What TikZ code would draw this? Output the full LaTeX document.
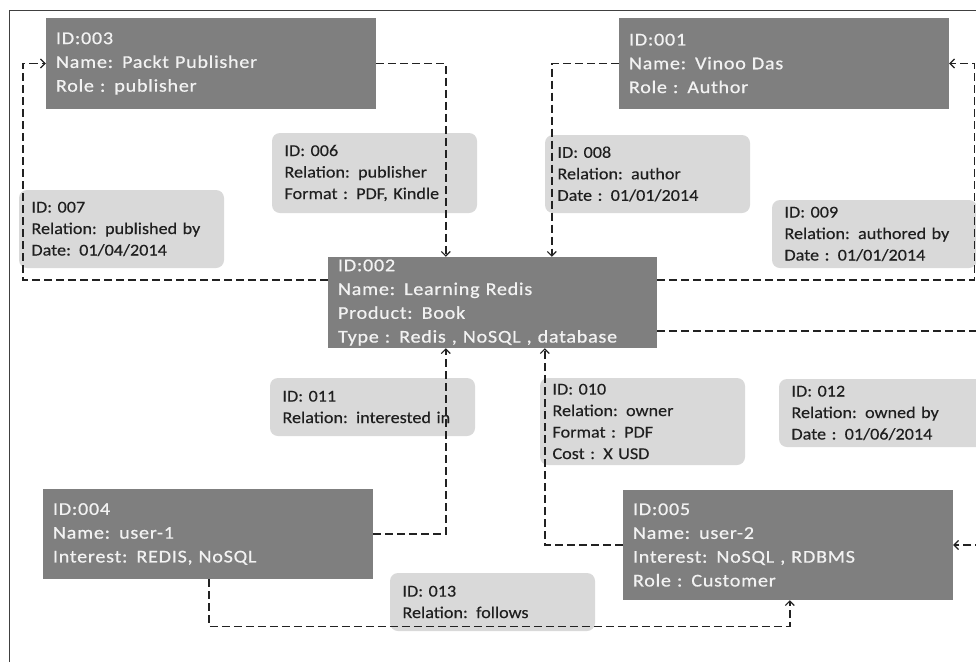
\documentclass[tikz,border=0pt]{standalone}
\usepackage{fontspec}
\setmainfont{Carlito}
\newfontfamily\darkfont[FakeStretch=1.12,LetterSpace=4,FakeBold=0.6]{Carlito}
\newfontfamily\lblfont[FakeStretch=1.1,FakeBold=0.25,WordSpace=0.8]{Carlito}
\usetikzlibrary{arrows.meta}
\definecolor{boxgray}{HTML}{7F7F7F}
\definecolor{lblgray}{HTML}{D9D9D9}
\definecolor{boxtext}{HTML}{F2F2F2}
\definecolor{linecol}{HTML}{222222}
\definecolor{framecol}{HTML}{404040}
\begin{document}
\begin{tikzpicture}[x=1pt,y=-1pt,
  dbox/.style={fill=boxgray, text=boxtext, inner xsep=10pt, inner ysep=0pt,
    align=left, text width=310pt, font=\darkfont\fontsize{18}{23.8}\selectfont},
  lbl/.style={fill=lblgray, rounded corners=8pt, text=black!88, inner xsep=12.5pt,
    inner ysep=0pt, align=left, text width=180pt,
    font=\lblfont\fontsize{16.5}{21.5}\selectfont},
  conn/.style={draw=linecol, line width=1.4pt, dash pattern=on 8pt off 4pt,
    -{Straight Barb[length=4.5pt,width=9pt,line width=1.2pt]}}]
\useasboundingbox (0,0) rectangle (976,662);
\fill[white] (0,0) rectangle (976,662);
\clip (0,0) rectangle (976,662);
\draw[framecol, line width=1pt] (9,662) -- (9,10) -- (976,10);

% relation labels
\node[lbl, minimum height=80pt] (l006) at (374.5,173) {ID: 006\\Relation: publisher\\Format : PDF, Kindle};
\node[lbl, minimum height=78pt] (l007) at (121.5,229) {ID: 007\\Relation: published by\\Date: 01/04/2014};
\node[lbl, minimum height=78pt] (l008) at (647.5,174) {ID: 008\\Relation: author\\Date : 01/01/2014};
\node[lbl, minimum height=68pt] (l009) at (874.5,234) {ID: 009\\Relation: authored by\\Date : 01/01/2014};
\node[lbl, minimum height=58pt] (l011) at (372.5,407) {ID: 011\\Relation: interested in};
\node[lbl, minimum height=87pt] (l010) at (642.5,421.5) {ID: 010\\Relation: owner\\Format : PDF\\Cost : X USD};
\node[lbl, minimum height=68pt] (l012) at (881.5,413) {ID: 012\\Relation: owned by\\Date : 01/06/2014};
\node[lbl, minimum height=58pt] (l013) at (492.5,602) {ID: 013\\Relation: follows};

% entity boxes
\node[dbox, minimum height=91pt] (n003) at (211,63.5) {ID:003\\Name: Packt Publisher\\Role : publisher};
\node[dbox, minimum height=91pt] (n001) at (784,63.5) {ID:001\\Name: Vinoo Das\\Role : Author};
\node[dbox, minimum height=91pt, text width=309pt] (n002) at (492.5,302.5) {ID:002\\Name: Learning Redis\\Product: Book\\Type : Redis , NoSQL , database};
\node[dbox, minimum height=90pt] (n004) at (208,534) {ID:004\\Name: user-1\\Interest: REDIS, NoSQL};
\node[dbox, minimum height=110pt] (n005) at (788,545) {ID:005\\Name: user-2\\Interest: NoSQL , RDBMS\\Role : Customer};

% connectors
\draw[conn] (n003.east) -| ([xshift=118pt]n002.north west);
\draw[conn] ([yshift=-23pt]n002.north west) -| ([xshift=-23pt]n003.west) -- (n003.west);
\draw[conn] (n001.west) -| ([xshift=224pt]n002.north west);
\draw[conn] ([yshift=-23pt]n002.north east) -| ([xshift=25pt]n001.east) -- (n001.east);
\draw[conn] ([yshift=-74pt]n002.north east) -| ([xshift=30pt]n005.east) -- (n005.east);
\draw[conn] (n005.west) -| ([xshift=217pt]n002.south west);
\draw[conn] (n004.east) -| ([xshift=118pt]n002.south west);
\draw[conn] ([xshift=166pt]n004.south west) -- ++(0,47) -| ([xshift=167pt]n005.south west);
\end{tikzpicture}
\end{document}
